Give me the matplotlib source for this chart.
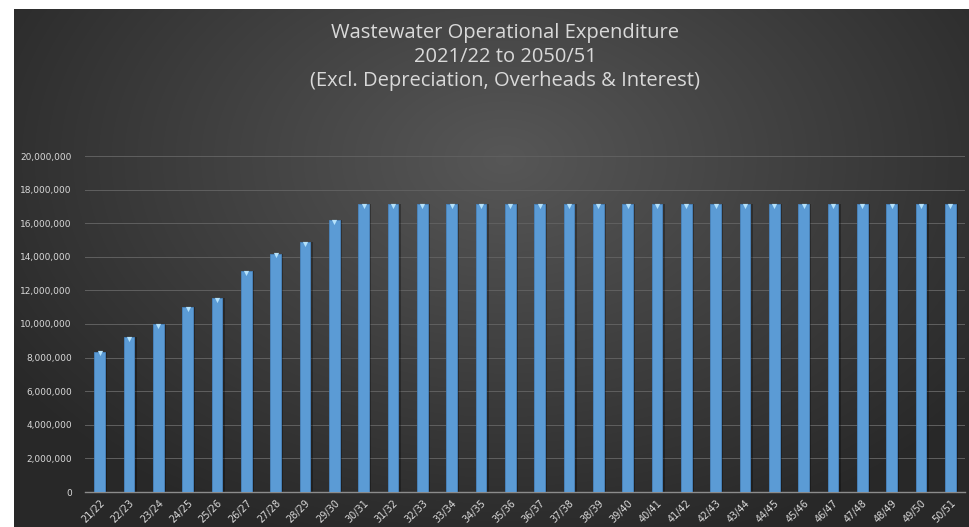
import numpy as np
import matplotlib
matplotlib.use("Agg")
from matplotlib import pyplot as plt
from matplotlib.ticker import FuncFormatter

# Financial years and expenditure values
years = ['21/22', '22/23', '23/24', '24/25', '25/26', '26/27', '27/28', '28/29',
         '29/30', '30/31', '31/32', '32/33', '33/34', '34/35', '35/36', '36/37',
         '37/38', '38/39', '39/40', '40/41', '41/42', '42/43', '43/44', '44/45',
         '45/46', '46/47', '47/48', '48/49', '49/50', '50/51']
expenditure = [8350000, 9210000, 9980000, 10990000, 11530000, 13150000, 14170000,
               14860000, 16170000] + [17120000] * 21

title = ('Wastewater Operational Expenditure\n2021/22 to 2050/51\n'
         '(Excl. Depreciation, Overheads & Interest)')

W, H = 970, 527
fig = plt.figure(figsize=(W / 100, H / 100), dpi=100)
fig.patch.set_facecolor('white')

# dark panel with radial gradient
bg = fig.add_axes([14 / W, 0, 1 - 14 / W, 1 - 9 / H])
yy, xx = np.mgrid[0:518, 0:956]
r = np.sqrt(((xx - 490) / 620.0) ** 2 + ((yy - 150) / 420.0) ** 2)
shade = np.clip(0.34 - 0.19 * r, 0.16, 0.34)
bg.imshow(np.dstack([shade] * 3), aspect='auto', extent=[0, 1, 0, 1], origin='upper')
bg.set_axis_off()

ax = fig.add_axes([85 / W, (H - 492) / H, 880 / W, 336 / H])
ax.patch.set_alpha(0)

x = np.arange(len(years))
# soft shadow, bars and the small bevel highlight on top
ax.bar(x + 0.07, expenditure, width=0.38, color='black', alpha=0.3, zorder=2)
ax.bar(x, expenditure, width=0.37, color='#5b9bd5', edgecolor='#4a86c0',
       linewidth=0.6, zorder=3)
ax.scatter(x, np.array(expenditure) - 90000, marker='v', s=14, color='#b5e2fb',
           linewidths=0, zorder=4)

ax.set_xlim(-0.5, len(years) - 0.5)
ax.set_ylim(0, 20000000)
ax.set_yticks(np.arange(0, 20000001, 2000000))
ax.yaxis.set_major_formatter(FuncFormatter(lambda v, p: f'{int(v):,}'))
ax.grid(axis='y', color='#606060', linewidth=0.7, zorder=0)
for s in ['top', 'right', 'left']:
    ax.spines[s].set_visible(False)
ax.spines['bottom'].set_color('#8c8c8c')
ax.spines['bottom'].set_linewidth(1)
ax.tick_params(axis='both', length=0, colors='#d9d9d9', labelsize=6.5)
ax.tick_params(axis='y', pad=9.5)
ax.set_xticks(x)
ax.set_xticklabels(years, rotation=45, ha='right', rotation_mode='anchor',
                   fontsize=7)
ax.tick_params(axis='x', pad=4)

fig.text(505 / W, 1 - 57 / H, title, ha='center', va='center', color='#d9d9d9',
         fontsize=14.5, family='Open Sans', linespacing=1.25)

fig.savefig('out.png', dpi=100)
